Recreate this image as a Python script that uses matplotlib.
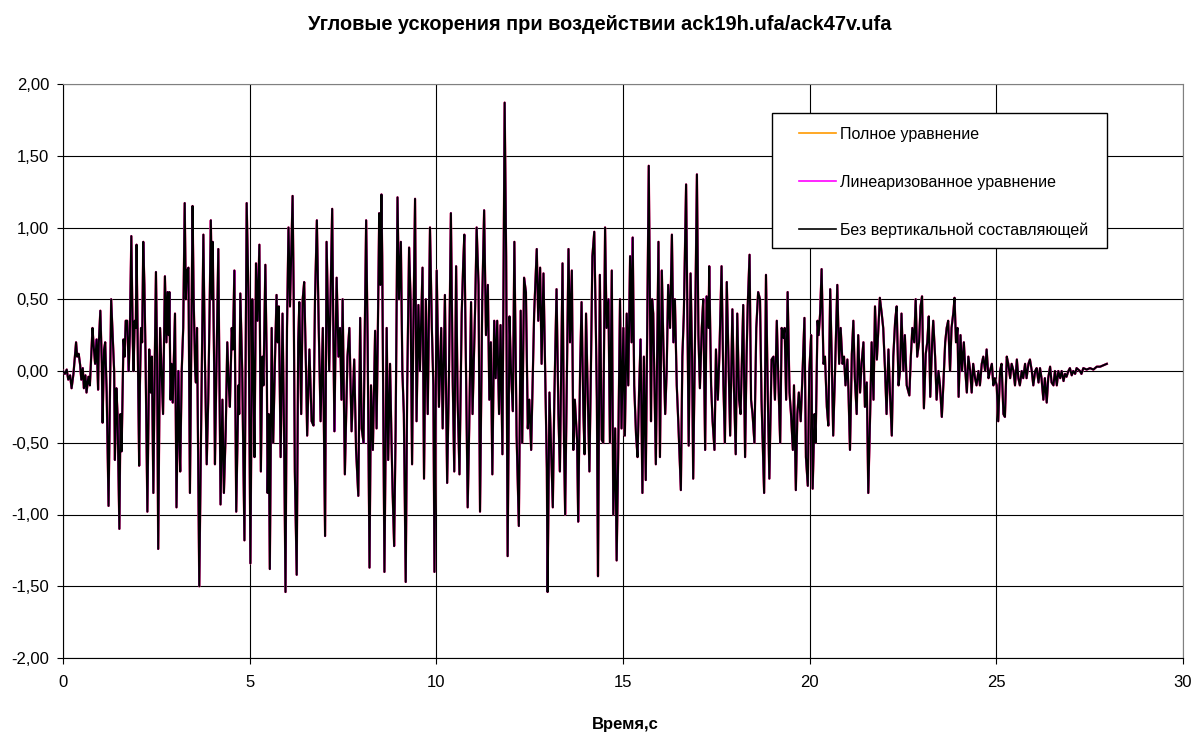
import matplotlib
matplotlib.use("Agg")
import matplotlib.pyplot as plt
from matplotlib.ticker import FuncFormatter, MultipleLocator
from matplotlib.patches import Rectangle

plt.rcParams['font.family'] = ['Liberation Sans', 'DejaVu Sans']
plt.rcParams['axes.unicode_minus'] = False

title = "Угловые ускорения при воздействии ack19h.ufa/ack47v.ufa"
xlabel = "Время,с"
series_names = ["Полное уравнение", "Линеаризованное уравнение", "Без вертикальной составляющей"]
series_colors = ["#FF9900", "#FF00FF", "#000000"]

time_s = [
    0.00, 0.05, 0.10, 0.14, 0.19, 0.23, 0.28, 0.35, 0.38, 0.42,
    0.46, 0.49, 0.53, 0.56, 0.60, 0.63, 0.68, 0.72, 0.79, 0.82,
    0.86, 0.90, 0.94, 0.96, 1.00, 1.04, 1.06, 1.10, 1.13, 1.17,
    1.22, 1.29, 1.33, 1.37, 1.39, 1.43, 1.46, 1.51, 1.54, 1.57,
    1.62, 1.65, 1.68, 1.72, 1.76, 1.79, 1.83, 1.87, 1.89, 1.92,
    1.95, 1.97, 2.00, 2.04, 2.06, 2.09, 2.12, 2.15, 2.18, 2.21,
    2.23, 2.26, 2.29, 2.31, 2.35, 2.38, 2.42, 2.46, 2.49, 2.52,
    2.55, 2.58, 2.60, 2.64, 2.68, 2.73, 2.77, 2.80, 2.83, 2.85,
    2.88, 2.91, 2.94, 3.00, 3.04, 3.09, 3.12, 3.14, 3.18, 3.22,
    3.26, 3.29, 3.32, 3.36, 3.40, 3.44, 3.47, 3.50, 3.54, 3.56,
    3.59, 3.65, 3.76, 3.80, 3.85, 3.89, 3.92, 3.96, 3.99, 4.01,
    4.05, 4.07, 4.12, 4.16, 4.19, 4.22, 4.27, 4.31, 4.36, 4.40,
    4.44, 4.47, 4.52, 4.55, 4.59, 4.64, 4.70, 4.72, 4.75, 4.80,
    4.86, 4.92, 4.97, 5.02, 5.07, 5.10, 5.13, 5.17, 5.21, 5.26,
    5.30, 5.34, 5.37, 5.42, 5.46, 5.48, 5.51, 5.54, 5.59, 5.63,
    5.68, 5.72, 5.75, 5.78, 5.83, 5.88, 5.92, 5.96, 6.00, 6.04,
    6.08, 6.15, 6.18, 6.21, 6.26, 6.30, 6.33, 6.38, 6.42, 6.46,
    6.51, 6.54, 6.60, 6.63, 6.66, 6.71, 6.75, 6.80, 6.85, 6.90,
    6.96, 7.02, 7.06, 7.10, 7.13, 7.21, 7.24, 7.27, 7.30, 7.33,
    7.38, 7.42, 7.46, 7.49, 7.55, 7.62, 7.67, 7.73, 7.80, 7.85,
    7.91, 7.96, 8.00, 8.05, 8.08, 8.12, 8.16, 8.21, 8.25, 8.30,
    8.36, 8.40, 8.43, 8.47, 8.50, 8.53, 8.55, 8.61, 8.67, 8.71,
    8.76, 8.80, 8.83, 8.87, 8.91, 8.96, 9.00, 9.05, 9.09, 9.13,
    9.18, 9.22, 9.27, 9.31, 9.35, 9.38, 9.43, 9.47, 9.52, 9.56,
    9.63, 9.67, 9.72, 9.77, 9.83, 9.88, 9.92, 9.95, 10.01, 10.07,
    10.13, 10.17, 10.23, 10.29, 10.34, 10.39, 10.44, 10.48, 10.53, 10.57,
    10.62, 10.68, 10.72, 10.75, 10.80, 10.84, 10.88, 10.93, 10.97, 11.04,
    11.08, 11.13, 11.17, 11.23, 11.28, 11.33, 11.38, 11.42, 11.46, 11.50,
    11.55, 11.59, 11.63, 11.68, 11.72, 11.77, 11.83, 11.87, 11.91, 11.96,
    12.00, 12.05, 12.09, 12.15, 12.21, 12.26, 12.30, 12.35, 12.40, 12.45,
    12.49, 12.54, 12.57, 12.62, 12.69, 12.73, 12.78, 12.82, 12.87, 12.91,
    12.96, 12.98, 13.03, 13.07, 13.12, 13.16, 13.22, 13.27, 13.31, 13.38,
    13.42, 13.45, 13.49, 13.54, 13.58, 13.63, 13.67, 13.71, 13.77, 13.80,
    13.85, 13.89, 13.94, 13.97, 14.01, 14.05, 14.10, 14.14, 14.18, 14.23,
    14.27, 14.30, 14.33, 14.38, 14.43, 14.47, 14.52, 14.56, 14.61, 14.65,
    14.70, 14.74, 14.79, 14.83, 14.87, 14.92, 14.96, 15.01, 15.05, 15.10,
    15.14, 15.19, 15.23, 15.26, 15.30, 15.35, 15.39, 15.43, 15.47, 15.52,
    15.56, 15.61, 15.65, 15.69, 15.72, 15.75, 15.78, 15.81, 15.85, 15.88,
    15.95, 15.99, 16.04, 16.08, 16.13, 16.17, 16.21, 16.26, 16.31, 16.35,
    16.39, 16.44, 16.48, 16.55, 16.59, 16.63, 16.69, 16.73, 16.76, 16.81,
    16.85, 16.88, 16.93, 16.98, 17.02, 17.06, 17.11, 17.15, 17.20, 17.24,
    17.29, 17.31, 17.36, 17.40, 17.45, 17.49, 17.54, 17.58, 17.64, 17.69,
    17.73, 17.78, 17.82, 17.87, 17.93, 17.97, 18.02, 18.06, 18.11, 18.15,
    18.22, 18.27, 18.31, 18.34, 18.39, 18.43, 18.47, 18.52, 18.57, 18.62,
    18.67, 18.71, 18.78, 18.83, 18.88, 18.92, 18.98, 19.03, 19.07, 19.12,
    19.16, 19.21, 19.25, 19.30, 19.33, 19.37, 19.41, 19.46, 19.50, 19.55,
    19.58, 19.63, 19.67, 19.71, 19.76, 19.80, 19.86, 19.90, 19.95, 19.99,
    20.04, 20.08, 20.13, 20.16, 20.21, 20.24, 20.28, 20.32, 20.37, 20.41,
    20.46, 20.50, 20.55, 20.59, 20.63, 20.68, 20.74, 20.79, 20.83, 20.88,
    20.92, 20.96, 21.01, 21.04, 21.08, 21.13, 21.17, 21.21, 21.26, 21.30,
    21.35, 21.39, 21.44, 21.48, 21.53, 21.57, 21.62, 21.66, 21.71, 21.75,
    21.80, 21.84, 21.88, 21.93, 21.97, 22.02, 22.06, 22.11, 22.15, 22.20,
    22.24, 22.29, 22.33, 22.38, 22.42, 22.46, 22.51, 22.55, 22.60, 22.67,
    22.71, 22.75, 22.80, 22.84, 22.88, 22.93, 22.97, 23.01, 23.06, 23.11,
    23.15, 23.19, 23.23, 23.28, 23.31, 23.36, 23.40, 23.45, 23.49, 23.54,
    23.58, 23.63, 23.67, 23.71, 23.76, 23.80, 23.85, 23.88, 23.92, 23.96,
    23.99, 24.04, 24.08, 24.13, 24.17, 24.21, 24.25, 24.30, 24.34, 24.38,
    24.43, 24.47, 24.52, 24.56, 24.61, 24.65, 24.70, 24.74, 24.79, 24.83,
    24.88, 24.92, 24.96, 25.01, 25.05, 25.10, 25.14, 25.19, 25.23, 25.28,
    25.32, 25.37, 25.41, 25.46, 25.50, 25.55, 25.59, 25.63, 25.68, 25.72,
    25.77, 25.81, 25.86, 25.90, 25.95, 25.99, 26.04, 26.08, 26.13, 26.17,
    26.21, 26.26, 26.30, 26.35, 26.39, 26.44, 26.48, 26.53, 26.57, 26.62,
    26.66, 26.71, 26.75, 26.80, 26.84, 26.88, 26.93, 26.97, 27.02, 27.06,
    27.11, 27.15, 27.24, 27.28, 27.33, 27.42, 27.51, 27.60, 27.69, 27.78,
    27.87, 27.96,
]

accel = [
    0.00, -0.02, 0.01, -0.06, -0.03, -0.12, -0.02, 0.20, 0.10, 0.12,
    0.04, -0.06, 0.02, -0.12, -0.03, -0.15, -0.04, -0.10, 0.30, 0.18,
    0.05, 0.22, -0.13, 0.20, 0.42, 0.05, -0.36, 0.15, 0.20, -0.15,
    -0.94, 0.50, 0.25, 0.00, -0.62, -0.12, -0.30, -1.10, -0.30, -0.56,
    0.22, 0.10, 0.35, 0.35, 0.00, 0.25, 0.94, 0.20, 0.00, 0.35,
    0.30, 0.88, 0.20, -0.66, -0.10, 0.30, 0.20, 0.90, 0.60, 0.12,
    -0.30, -0.98, -0.30, 0.15, -0.15, 0.10, -0.85, 0.10, 0.69, 0.10,
    -1.24, -0.30, 0.30, 0.00, -0.30, 0.66, 0.20, 0.55, 0.25, 0.55,
    -0.20, 0.05, -0.22, 0.40, -0.95, 0.00, -0.50, -0.70, 0.00, 0.30,
    1.17, 0.50, 0.70, 0.72, -0.85, 0.30, 1.15, 0.50, 0.00, -0.08,
    0.30, -1.50, 0.95, 0.10, -0.65, -0.20, 0.30, 1.05, 0.50, 0.90,
    0.00, -0.65, 0.20, 0.85, 0.00, -0.93, -0.20, -0.85, -0.40, 0.20,
    -0.10, -0.25, 0.30, 0.15, 0.70, -0.98, -0.10, -0.30, 0.54, 0.00,
    -1.18, 1.17, 0.50, -1.34, 0.50, 0.00, -0.60, 0.75, 0.35, 0.88,
    -0.70, 0.10, -0.10, 0.74, 0.00, -0.85, -0.30, -1.38, 0.30, -0.50,
    0.10, 0.53, 0.20, 0.45, -0.60, 0.40, -0.40, -1.54, 0.30, 1.00,
    0.45, 1.22, 0.50, -0.70, -1.42, 0.20, 0.48, -0.30, 0.50, 0.62,
    0.00, -0.45, 0.15, -0.10, -0.35, -0.38, 0.50, 1.05, 0.30, -0.35,
    0.30, -1.15, 0.90, 0.40, 0.00, 1.13, 0.30, -0.42, 0.20, 0.65,
    0.10, 0.30, -0.20, 0.50, -0.72, 0.10, 0.30, -0.42, 0.08, -0.55,
    -0.87, 0.37, -0.40, -0.50, 0.20, 1.05, 0.20, -1.37, -0.10, -0.55,
    0.28, -0.40, 0.20, 1.10, 0.60, 1.23, 0.80, -1.40, 0.30, -0.62,
    0.05, -0.50, -0.85, -1.22, -0.40, 1.21, 0.50, 0.90, 0.00, -0.30,
    -1.47, -0.10, 0.86, 0.50, -0.65, 0.20, 1.20, -0.35, 0.46, 0.00,
    0.72, -0.75, 0.50, -0.30, 1.00, 0.30, -0.10, -1.40, 0.70, -0.25,
    0.30, -0.40, 0.53, -0.78, 0.00, 1.10, -0.08, -0.70, 0.73, -0.20,
    -0.72, 0.40, 0.75, 0.95, -0.10, -0.95, -0.40, 0.48, -0.30, 0.45,
    1.00, 0.60, -0.98, 0.50, 1.12, 0.25, 0.60, -0.20, 0.20, -0.72,
    0.35, -0.05, 0.35, -0.30, 0.32, -0.58, 1.87, 0.80, -1.29, 0.38,
    0.00, -0.28, 0.90, -0.45, -1.08, 0.42, -0.50, 0.65, 0.55, -0.40,
    -0.20, -0.55, -0.20, 0.40, 0.85, 0.35, 0.72, 0.05, 0.68, 0.06,
    -0.68, -1.54, -0.15, -0.50, -0.95, -0.20, 0.57, -0.30, -0.70, 0.75,
    -0.50, -1.00, -0.20, 0.85, 0.20, 0.70, -0.55, -0.20, -0.48, -1.05,
    0.00, 0.48, -0.30, -0.58, 0.40, -0.10, -0.70, 0.00, 0.80, 0.97,
    0.35, -0.20, -1.43, 0.67, -0.48, -0.50, 1.00, 0.30, 0.50, -0.50,
    0.70, -1.00, -0.40, -1.32, -0.60, 0.50, -0.40, 0.30, -0.45, 0.40,
    -0.10, 0.80, 0.20, 0.93, -0.10, -0.45, -0.60, -0.15, 0.22, -0.85,
    0.10, -0.76, 0.30, 1.43, 0.50, -0.35, 0.50, 0.40, -0.20, -0.65,
    0.90, -0.60, 0.70, 0.20, -0.30, 0.00, 0.60, 0.30, 0.95, 0.20,
    0.50, -0.10, -0.35, -0.83, 0.10, 0.40, 1.30, 0.30, -0.52, 0.68,
    0.10, -0.75, 0.25, 1.37, 0.25, -0.12, 0.30, 0.50, -0.55, 0.52,
    0.30, 0.73, -0.10, -0.35, -0.55, 0.15, -0.20, 0.10, 0.73, -0.10,
    -0.50, 0.62, 0.15, -0.45, 0.43, -0.10, -0.58, 0.40, -0.20, -0.30,
    0.46, -0.60, 0.10, 0.45, 0.81, -0.20, -0.30, -0.50, 0.30, 0.55,
    0.50, -0.20, -0.85, 0.67, -0.20, -0.75, 0.08, 0.10, -0.20, 0.35,
    -0.05, -0.50, 0.30, 0.23, 0.30, -0.20, 0.55, -0.15, -0.30, -0.55,
    -0.10, -0.83, -0.30, -0.15, -0.35, -0.08, 0.37, -0.60, -0.80, 0.00,
    0.25, -0.82, -0.30, -0.50, 0.35, 0.25, 0.40, 0.71, 0.05, 0.10,
    -0.25, -0.38, 0.57, 0.10, -0.45, 0.00, 0.60, 0.05, 0.30, 0.05,
    0.10, -0.10, 0.08, -0.15, -0.55, 0.12, 0.35, -0.05, -0.30, 0.25,
    -0.15, 0.05, 0.20, -0.25, -0.08, -0.85, -0.30, 0.20, -0.20, 0.45,
    0.08, 0.30, 0.51, 0.40, 0.30, 0.00, -0.30, 0.15, -0.15, -0.45,
    0.10, 0.35, 0.45, -0.10, 0.00, 0.40, 0.00, 0.25, -0.10, -0.17,
    0.10, 0.30, 0.20, 0.50, 0.10, 0.20, 0.45, 0.52, -0.26, 0.12,
    0.20, 0.38, -0.18, 0.20, 0.35, 0.10, -0.20, 0.00, -0.10, -0.32,
    -0.10, 0.20, 0.30, 0.35, 0.00, 0.30, 0.41, 0.51, 0.20, 0.30,
    -0.18, 0.25, 0.00, 0.20, 0.00, -0.15, 0.10, 0.00, -0.15, 0.05,
    -0.05, -0.10, 0.00, -0.10, 0.05, 0.10, 0.00, 0.15, -0.05, 0.00,
    0.05, -0.10, -0.05, -0.10, -0.35, 0.00, 0.05, -0.30, -0.32, 0.10,
    0.05, -0.05, 0.05, 0.00, -0.10, 0.08, -0.05, -0.10, 0.00, -0.05,
    0.05, -0.05, 0.05, 0.08, 0.00, -0.10, 0.00, 0.02, -0.08, 0.02,
    -0.05, -0.20, -0.05, -0.22, -0.05, 0.03, -0.08, -0.10, 0.00, -0.10,
    0.00, -0.05, 0.00, -0.07, -0.02, -0.04, 0.00, 0.02, -0.03, 0.00,
    -0.02, 0.02, 0.00, -0.02, 0.02, 0.01, 0.02, 0.01, 0.03, 0.03,
    0.04, 0.05,
]

assert len(time_s) == len(accel), (len(time_s), len(accel))

fig = plt.figure(figsize=(11.94, 7.33), dpi=100)
ax = fig.add_axes([63 / 1194, 1 - 658 / 733, 1120 / 1194, 574 / 733])

widths = [1.6, 1.6, 1.45]
lines = []
for name, color, lw in zip(series_names, series_colors, widths):
    ln, = ax.plot(time_s, accel, color=color, lw=lw, label=name, zorder=3)
    lines.append(ln)

ax.set_xlim(0, 30)
ax.set_ylim(-2, 2)
ax.xaxis.set_major_locator(MultipleLocator(5))
ax.yaxis.set_major_locator(MultipleLocator(0.5))
ax.yaxis.set_major_formatter(FuncFormatter(lambda v, p: f"{v:.2f}".replace('.', ',')))
ax.grid(True, color='black', lw=0.8, zorder=0)
ax.set_axisbelow(True)
for s in ['top', 'right']:
    ax.spines[s].set_color('#808080')
for s in ['left', 'bottom']:
    ax.spines[s].set_color('black')
ax.tick_params(axis='both', labelsize=12, length=4, color='black', pad=6)
ax.tick_params(axis='x', pad=8)

# legend box
box = Rectangle((0.633, 0.7143), 0.2991, 0.2352, transform=ax.transAxes,
                facecolor='white', edgecolor='black', lw=1.0, zorder=4)
ax.add_patch(box)
leg = ax.legend(handles=lines, loc='upper left', bbox_to_anchor=(0.657, 0.925),
                fontsize=11.5, frameon=False, labelspacing=2.05, handlelength=2.3,
                handletextpad=0.3, borderpad=0, borderaxespad=0)
for h in leg.get_lines():
    h.set_linewidth(1.2)
leg.set_zorder(5)

fig.text(600 / 1194, 1 - 24 / 733, title, ha='center', va='center', fontsize=14.4, fontweight='bold')
fig.text(625 / 1194, 1 - 724 / 733, xlabel, ha='center', va='center', fontsize=12, fontweight='bold')

fig.savefig("out.png", dpi=100)
